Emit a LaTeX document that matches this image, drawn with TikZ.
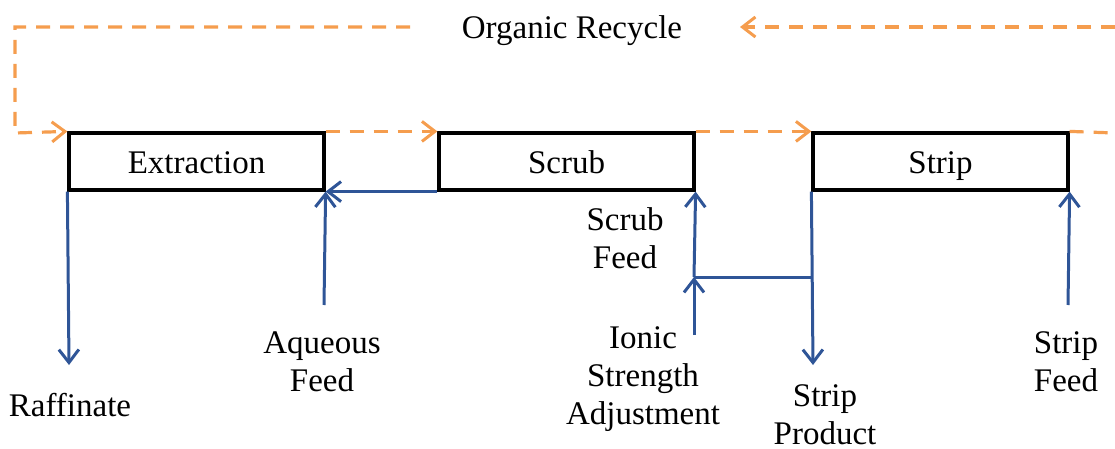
\documentclass[tikz,border=0pt]{standalone}
\usepackage{fontspec}
\setmainfont{Liberation Serif}
\usetikzlibrary{arrows.meta}
\definecolor{flowblue}{RGB}{47,85,151}
\definecolor{recorange}{RGB}{245,157,78}
\tikzset{
  stagebox/.style={draw=black, line width=3.2pt, minimum width=255pt, minimum height=57pt, inner sep=0pt},
  lbl/.style={align=center, inner sep=0pt, font=\fontsize{33}{38}\selectfont},
  oneline/.style={text height=23pt, text depth=0pt},
  barb/.style={-{Straight Barb[length=13pt,width=20pt,line width=3pt]}},
  aqflow/.style={draw=flowblue, line width=3pt, barb},
  aqline/.style={draw=flowblue, line width=3pt},
  orgflow/.style={draw=recorange, line width=3.2pt, dash pattern=on 14pt off 10pt, barb},
  orgline/.style={draw=recorange, line width=3.2pt, dash pattern=on 14pt off 10pt},
}
\begin{document}
\begin{tikzpicture}[x=1pt,y=-1pt]
\useasboundingbox (0,0) rectangle (1115,449);
% stage boxes
\node[stagebox, lbl, oneline] (ext) at (196.5,161.5) {Extraction};
\node[stagebox, lbl, oneline] (scr) at (566.5,161.5) {Scrub};
\node[stagebox, lbl, oneline] (stp) at (940.5,161.5) {Strip};
% labels
\node[lbl, oneline] (rec) at (572,27) {Organic Recycle};
\node[lbl, oneline] (raf) at (70,405) {Raffinate};
\node[lbl] (aq) at (322,362) {Aqueous\\Feed};
\node[lbl] (sf) at (625,238) {Scrub\\Feed};
\node[lbl] (ion) at (643,379) {Ionic\\Strength\\Adjustment};
\node[lbl, text depth=0pt] (prod) at (825,415) {Strip\\Product};
\node[lbl] (sfeed) at (1066,362) {Strip\\Feed};
% free ends
\coordinate (rafend) at (69,365);
\coordinate (aqstart) at (324,305);
\coordinate (junc) at (694,277);
\coordinate (ionstart) at (694,335);
\coordinate (prodend) at (813,365);
\coordinate (sfstart) at (1068,305);
\coordinate (redge) at (1115,133);
\coordinate (redgetop) at (1115,27);
\coordinate (recarrow) at (740,27);
\coordinate (recleft) at (410,27);
\coordinate (lcorner) at (15,27);
\coordinate (lcornerb) at (15,133);
% aqueous flows
\draw[aqflow] (ext.south west) -- (rafend);
\draw[aqflow] (aqstart) -- (ext.south east);
\draw[aqflow] (scr.south west) -- (ext.south east);
\draw[aqflow] (junc) -- (scr.south east);
\draw[aqflow] (ionstart) -- (junc);
\draw[aqline] (junc) -- (stp.south west |- junc);
\draw[aqflow] (stp.south west) -- (prodend);
\draw[aqflow] (sfstart) -- (stp.south east);
% organic flows
\draw[orgflow] (ext.north east) -- (scr.north west);
\draw[orgflow] (scr.north east) -- (stp.north west);
\draw[orgline] (stp.north east) -- (redge);
\draw[orgflow] (redgetop) -- (recarrow);
\draw[orgflow] (recleft) -- (lcorner) -- (lcornerb) -- (ext.north west);
\end{tikzpicture}
\end{document}
